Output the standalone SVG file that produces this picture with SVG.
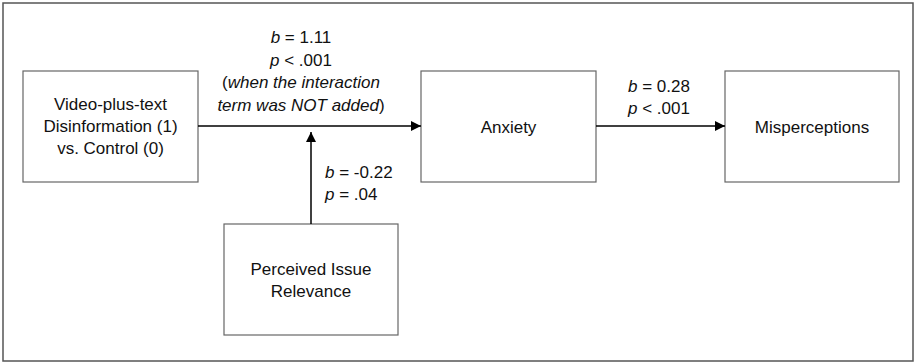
<svg xmlns="http://www.w3.org/2000/svg" width="917" height="364" viewBox="0 0 917 364">
<style>
.box{fill:#fff;stroke:#666;stroke-width:1.2}
.t{font-family:"Liberation Sans",Arial,sans-serif;font-size:17px;fill:#111}
.c{text-anchor:middle}
.conn{stroke:#000;stroke-width:1.5;fill:none}
</style>
<defs>
<marker id="ah" viewBox="0 0 10 10" refX="10" refY="5" markerWidth="10" markerHeight="10" markerUnits="userSpaceOnUse" orient="auto">
<path d="M0,0 L10,5 L0,10 z" fill="#000"/>
</marker>
</defs>
<rect x="3" y="3" width="910" height="358" fill="#fff" stroke="#555" stroke-width="1.5"/>
<g id="n-video">
<rect class="box" x="23" y="71" width="175" height="111"/>
<text class="t c" x="110.5" y="110">Video-plus-text</text>
<text class="t c" x="110.5" y="132">Disinformation (1)</text>
<text class="t c" x="110.5" y="154">vs. Control (0)</text>
</g>
<g id="n-anxiety">
<rect class="box" x="421" y="71" width="175" height="111"/>
<text class="t c" x="508.5" y="133">Anxiety</text>
</g>
<g id="n-misperceptions">
<rect class="box" x="725" y="71" width="174" height="111"/>
<text class="t c" x="812" y="133">Misperceptions</text>
</g>
<g id="n-relevance">
<rect class="box" x="224" y="224" width="174" height="111"/>
<text class="t c" x="311" y="275">Perceived Issue</text>
<text class="t c" x="311" y="297">Relevance</text>
</g>
<g id="connectors">
<line class="conn" x1="198" y1="126" x2="421" y2="126" marker-end="url(#ah)"/>
<line class="conn" x1="596" y1="126" x2="725" y2="126" marker-end="url(#ah)"/>
<line class="conn" x1="311" y1="224" x2="311" y2="132" marker-end="url(#ah)"/>
<text class="t c" x="301" y="43"><tspan font-style="italic">b</tspan> = 1.11</text>
<text class="t c" x="301" y="65.5"><tspan font-style="italic">p</tspan> &lt; .001</text>
<text class="t c" x="301" y="88">(<tspan font-style="italic">when the interaction</tspan></text>
<text class="t c" x="301" y="110.5"><tspan font-style="italic">term was NOT added</tspan>)</text>
<text class="t c" x="659" y="92"><tspan font-style="italic">b</tspan> = 0.28</text>
<text class="t c" x="659" y="114"><tspan font-style="italic">p</tspan> &lt; .001</text>
<text class="t" x="325" y="178"><tspan font-style="italic">b</tspan> = -0.22</text>
<text class="t" x="325" y="200"><tspan font-style="italic">p</tspan> = .04</text>
</g>
</svg>
